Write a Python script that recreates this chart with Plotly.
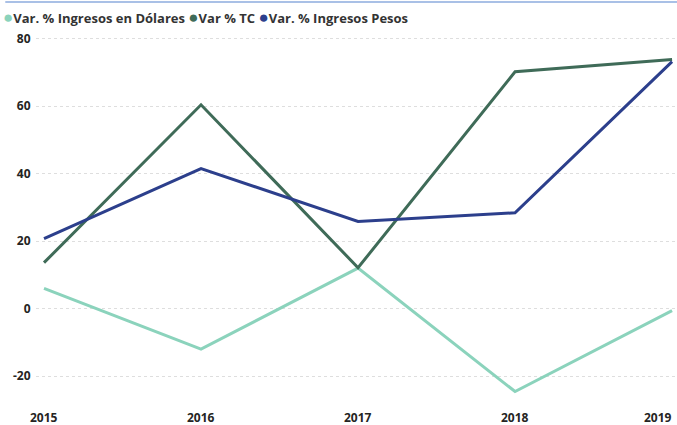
import plotly.graph_objects as go

years = [2015, 2016, 2017, 2018, 2019]
year_labels = ["2015", "2016", "2017", "2018", "2019"]
var_dolares = [6.0, -12.0, 12.0, -24.6, -0.6]
var_tc = [13.6, 60.4, 12.1, 70.2, 73.8]
var_pesos = [20.7, 41.5, 25.8, 28.4, 73.2]
y_ticks = [-20, 0, 20, 40, 60, 80]
y_tick_labels = ["-20", "0", "20", "40", "60", "80"]

series = [
    ("Var. % Ingresos en Dólares", var_dolares, "#8BD3BC"),
    ("Var % TC", var_tc, "#3F6B58"),
    ("Var. % Ingresos Pesos", var_pesos, "#2C3F8C"),
]

font_family = "Open Sans"
fig = go.Figure()
for name, vals, color in series:
    fig.add_trace(go.Scatter(
        x=years, y=vals, name=name, mode="lines",
        line=dict(color=color, width=3), showlegend=False,
    ))

# legend drawn as one line of text with coloured dots
legend_text = " ".join(
    f"<span style='color:{c};font-size:17px'>●</span>{n}" for n, _, c in series
)

annotations = [dict(
    text=legend_text, xref="paper", yref="paper",
    x=-0.054, y=1.055, xanchor="left", yanchor="middle", showarrow=False,
    font=dict(family=font_family, size=13, color="#333333", weight="bold"),
)]
for i, (yr, lab) in enumerate(zip(years, year_labels)):
    last = i == len(years) - 1
    annotations.append(dict(
        text=lab, xref="x", yref="paper", x=yr, y=0, yshift=-15,
        xanchor="right" if last else "center", xshift=2 if last else 0,
        yanchor="middle", showarrow=False,
        font=dict(family=font_family, size=12, color="#252423", weight="bold"),
    ))

fig.update_layout(
    width=677, height=425,
    margin=dict(l=36, r=1, t=37, b=23, autoexpand=False),
    paper_bgcolor="white", plot_bgcolor="white",
    font=dict(family=font_family, size=12, color="#252423", weight="bold"),
    showlegend=False,
    xaxis=dict(
        range=[2014.949, 2019.025], automargin=False,
        showticklabels=False, showgrid=False, zeroline=False, showline=False,
    ),
    yaxis=dict(
        range=[-27.7, 80.5], automargin=False,
        tickmode="array", tickvals=y_ticks, ticktext=y_tick_labels,
        showgrid=True, gridcolor="#DEDEDE", griddash="dot", gridwidth=1,
        zeroline=False, showline=False,
        ticks="outside", ticklen=2, tickcolor="rgba(0,0,0,0)",
        tickfont=dict(family=font_family, size=12, color="#252423", weight="bold"),
    ),
    annotations=annotations,
    shapes=[dict(
        type="line", xref="paper", yref="paper",
        x0=-0.048, x1=1.01, y0=1.096, y1=1.096,
        line=dict(color="#A9C0E6", width=2),
    )],
)

fig.write_html(
    "out.html",
    config={"displayModeBar": False},
    post_script="document.body.style.margin='0';document.body.style.overflow='hidden';",
)
